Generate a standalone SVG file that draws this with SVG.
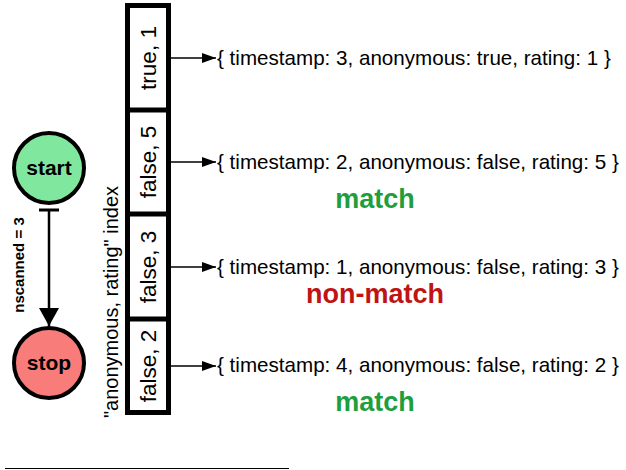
<svg xmlns="http://www.w3.org/2000/svg" width="626" height="470" viewBox="0 0 626 470">
<style>
.box{fill:#fff;stroke:#000;stroke-width:5}
.lbl{font-family:"Liberation Sans",Arial,sans-serif;font-size:22.5px;fill:#000}
.idx{font-family:"Liberation Sans",Arial,sans-serif;font-size:20px;fill:#000}
.rec{font-family:"Liberation Sans",Arial,sans-serif;font-size:20.6px;fill:#000}
.bold{font-family:"Liberation Sans",Arial,sans-serif;font-weight:bold}
.ok{fill:#1e9e3c;font-size:27px}
.bad{fill:#c01414;font-size:27px}
.conn{stroke:#000;stroke-width:1.5;fill:none}
</style>
<defs>
<marker id="ah" viewBox="0 0 14 10" refX="14" refY="5" markerWidth="14" markerHeight="10" markerUnits="userSpaceOnUse" orient="auto">
<path d="M0,0 L14,5 L0,10 z" fill="#000"/>
</marker>
<marker id="bh" viewBox="0 0 18 20" refX="18" refY="10" markerWidth="18" markerHeight="20" markerUnits="userSpaceOnUse" orient="auto">
<path d="M0,0 L18,10 L0,20 z" fill="#000"/>
</marker>
</defs>
<g id="start"><circle cx="49" cy="168" r="35" fill="#80e89e" stroke="#000" stroke-width="4"/><text class="bold" x="49" y="175" font-size="21" text-anchor="middle">start</text></g>
<g id="stop"><circle cx="49" cy="363" r="35" fill="#f87c7a" stroke="#000" stroke-width="4"/><text class="bold" x="49" y="370" font-size="21" text-anchor="middle">stop</text></g>
<g id="index">
<rect class="box" x="127.5" y="5.5" width="41" height="407"/>
<line x1="127.5" y1="110" x2="168.5" y2="110" stroke="#000" stroke-width="5"/>
<line x1="127.5" y1="214" x2="168.5" y2="214" stroke="#000" stroke-width="5"/>
<line x1="127.5" y1="319" x2="168.5" y2="319" stroke="#000" stroke-width="5"/>
<text class="lbl" transform="translate(156,58) rotate(-90)" text-anchor="middle">true, 1</text>
<text class="lbl" transform="translate(156,162) rotate(-90)" text-anchor="middle">false, 5</text>
<text class="lbl" transform="translate(156,267) rotate(-90)" text-anchor="middle">false, 3</text>
<text class="lbl" transform="translate(156,366) rotate(-90)" text-anchor="middle">false, 2</text>
<text class="idx" transform="translate(118,302) rotate(-90)" text-anchor="middle">"anonymous, rating" index</text>
</g>
<g id="records">
<text class="rec" x="217" y="65">{ timestamp: 3, anonymous: true, rating: 1 }</text>
<text class="rec" x="217" y="169">{ timestamp: 2, anonymous: false, rating: 5 }</text>
<text class="rec" x="217" y="274">{ timestamp: 1, anonymous: false, rating: 3 }</text>
<text class="rec" x="217" y="372">{ timestamp: 4, anonymous: false, rating: 2 }</text>
</g>
<g id="results">
<text class="bold ok" x="375" y="208" text-anchor="middle">match</text>
<text class="bold bad" x="375" y="303" text-anchor="middle">non-match</text>
<text class="bold ok" x="375" y="411" text-anchor="middle">match</text>
</g>
<g id="connectors">
<line class="conn" x1="171" y1="58" x2="216" y2="58" marker-end="url(#ah)"/>
<line class="conn" x1="171" y1="162" x2="216" y2="162" marker-end="url(#ah)"/>
<line class="conn" x1="171" y1="267" x2="216" y2="267" marker-end="url(#ah)"/>
<line class="conn" x1="171" y1="366" x2="216" y2="366" marker-end="url(#ah)"/>
<line x1="49" y1="210" x2="49" y2="326" stroke="#000" stroke-width="2.5" marker-end="url(#bh)"/>
<line x1="39" y1="210" x2="59" y2="210" stroke="#000" stroke-width="3"/>
<text class="bold" font-size="15" transform="translate(24,265) rotate(-90)" text-anchor="middle">nscanned = 3</text>
</g>
<line x1="5" y1="468.5" x2="289" y2="468.5" stroke="#000" stroke-width="1.2"/>
</svg>
